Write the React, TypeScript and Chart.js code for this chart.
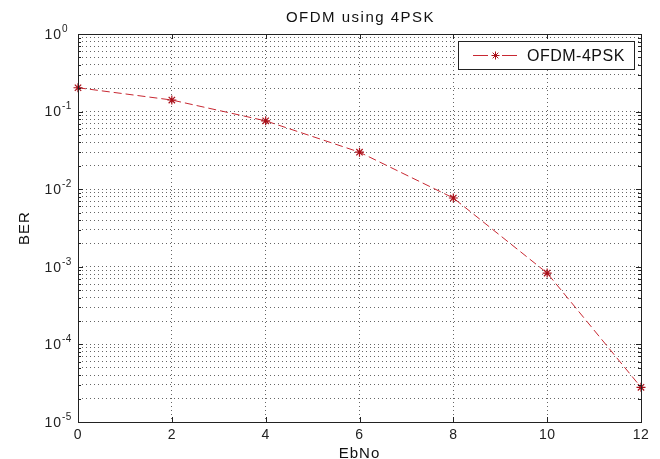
import React, { useEffect, useRef } from "react";
import { Chart, registerables } from "chart.js";

Chart.register(...registerables);

const ebno = [0, 2, 4, 6, 8, 10, 12];
const ber = [0.203, 0.141, 0.076, 0.03, 0.0077, 0.00083, 0.000028];
const xTicks = [0, 2, 4, 6, 8, 10, 12];
const yDecades = [-5, -4, -3, -2, -1, 0];
const yMantissas = [1, 2, 3, 4, 5, 6, 7, 8, 9];
const titleText = "OFDM using 4PSK";
const xLabel = "EbNo";
const yLabel = "BER";
const seriesName = "OFDM-4PSK";

const FONT = "'Liberation Sans', Arial, sans-serif";
const LINE_COLOR = "rgb(200,40,50)";
const MARK_COLOR = "rgb(170,15,25)";

function drawStar(ctx: CanvasRenderingContext2D, x: number, y: number, r: number) {
  ctx.beginPath();
  ctx.moveTo(x - r, y);
  ctx.lineTo(x + r, y);
  ctx.moveTo(x, y - r);
  ctx.lineTo(x, y + r);
  const d = r * 0.7071;
  ctx.moveTo(x - d, y - d);
  ctx.lineTo(x + d, y + d);
  ctx.moveTo(x - d, y + d);
  ctx.lineTo(x + d, y - d);
  ctx.stroke();
}

function setSpacing(ctx: any, px: number) {
  if ("letterSpacing" in ctx) ctx.letterSpacing = `${px}px`;
}

const matlabPlugin = {
  id: "matlabLook",
  beforeDraw(chart: any) {
    const { ctx, width, height } = chart;
    ctx.save();
    ctx.fillStyle = "#ffffff";
    ctx.fillRect(0, 0, width, height);
    ctx.restore();
  },
  afterDraw(chart: any) {
    const { ctx, chartArea } = chart;
    const { left, right, top, bottom } = chartArea;
    const xs = chart.scales.x;
    const ys = chart.scales.y;
    ctx.save();
    // frame
    ctx.strokeStyle = "#222";
    ctx.lineWidth = 1;
    ctx.setLineDash([]);
    ctx.strokeRect(Math.round(left) + 0.5, Math.round(top) + 0.5, Math.round(right - left), Math.round(bottom - top));
    // x ticks
    ctx.beginPath();
    xTicks.forEach((v) => {
      const px = Math.round(xs.getPixelForValue(v)) + 0.5;
      ctx.moveTo(px, bottom);
      ctx.lineTo(px, bottom - 5);
      ctx.moveTo(px, top);
      ctx.lineTo(px, top + 5);
    });
    // y ticks
    ys.ticks.forEach((t: any) => {
      const py = Math.round(ys.getPixelForValue(t.value)) + 0.5;
      const lg = Math.log10(t.value);
      const major = Math.abs(lg - Math.round(lg)) < 1e-9;
      const len = major ? 5 : 3;
      ctx.moveTo(left, py);
      ctx.lineTo(left + len, py);
      ctx.moveTo(right, py);
      ctx.lineTo(right - len, py);
    });
    ctx.stroke();

    // x tick labels
    ctx.fillStyle = "#222";
    ctx.font = `14px ${FONT}`;
    ctx.textAlign = "center";
    ctx.textBaseline = "middle";
    setSpacing(ctx, 0.5);
    xTicks.forEach((v) => {
      ctx.fillText(String(v), xs.getPixelForValue(v), bottom + 13);
    });
    // y tick labels 10^n
    yDecades.forEach((d) => {
      const py = ys.getPixelForValue(Math.pow(10, d));
      ctx.font = `14px ${FONT}`;
      setSpacing(ctx, 1);
      ctx.textAlign = "right";
      ctx.textBaseline = "middle";
      ctx.fillText("10", left - 16, py + 1);
      ctx.font = `10px ${FONT}`;
      setSpacing(ctx, 0.5);
      ctx.textAlign = "left";
      ctx.fillText(String(d), left - 16, py - 5);
    });
    // title
    ctx.font = `15px ${FONT}`;
    setSpacing(ctx, 1.5);
    ctx.textAlign = "center";
    ctx.textBaseline = "middle";
    ctx.fillStyle = "#111";
    ctx.fillText(titleText, (left + right) / 2 + 1, 18);
    // x label
    setSpacing(ctx, 1);
    ctx.font = `15px ${FONT}`;
    ctx.fillText(xLabel, (left + right) / 2, 454);
    // y label
    ctx.save();
    ctx.translate(25, 228);
    ctx.rotate(-Math.PI / 2);
    ctx.fillText(yLabel, 0, 0);
    ctx.restore();

    // legend
    const lx = 458, ly = 41, lw = 176, lh = 28;
    ctx.fillStyle = "#fff";
    ctx.fillRect(lx, ly, lw, lh);
    ctx.strokeStyle = "#222";
    ctx.lineWidth = 1;
    ctx.strokeRect(lx + 0.5, ly + 0.5, lw, lh);
    const cy = ly + lh / 2 + 0.5;
    ctx.strokeStyle = LINE_COLOR;
    ctx.setLineDash([15, 14]);
    ctx.beginPath();
    ctx.moveTo(473, cy);
    ctx.lineTo(517, cy);
    ctx.stroke();
    ctx.setLineDash([]);
    ctx.strokeStyle = MARK_COLOR;
    drawStar(ctx, 495.5, cy, 4);
    ctx.fillStyle = "#111";
    setSpacing(ctx, 0.5);
    ctx.font = `16px ${FONT}`;
    ctx.textAlign = "left";
    ctx.textBaseline = "middle";
    ctx.fillText(seriesName, 527, cy + 1);
    ctx.restore();
  },
};

export default function App() {
  const ref = useRef<HTMLCanvasElement | null>(null);
  useEffect(() => {
    if (!ref.current) return;
    const yTickValues: number[] = [];
    yDecades.forEach((d) => {
      if (d === 0) {
        yTickValues.push(1);
      } else {
        yMantissas.forEach((m) => yTickValues.push(m * Math.pow(10, d)));
      }
    });
    const chart = new Chart(ref.current, {
      type: "line",
      data: {
        datasets: [
          {
            label: seriesName,
            data: ebno.map((x, i) => ({ x, y: ber[i] })),
            borderColor: LINE_COLOR,
            borderWidth: 1,
            borderDash: [8, 4],
            pointStyle: "star",
            pointRadius: 4.5,
            pointBorderColor: MARK_COLOR,
            pointBackgroundColor: MARK_COLOR,
            pointBorderWidth: 1.2,
            fill: false,
            tension: 0,
            clip: false as any,
          },
        ],
      },
      options: {
        responsive: false,
        devicePixelRatio: 1,
        animation: false,
        layout: { padding: { left: 78, right: 19, top: 34, bottom: 37 } },
        plugins: { legend: { display: false }, title: { display: false }, tooltip: { enabled: false } },
        scales: {
          x: {
            type: "linear",
            min: 0,
            max: 12,
            afterBuildTicks: (s: any) => {
              s.ticks = xTicks.map((v) => ({ value: v }));
            },
            afterFit: (s: any) => {
              s.height = 0;
            },
            ticks: { display: false },
            grid: { color: "rgba(0,0,0,0.6)", lineWidth: 1, drawTicks: false },
            border: { display: false, dash: [1, 3] },
          },
          y: {
            type: "logarithmic",
            min: 1e-5,
            max: 1,
            afterBuildTicks: (s: any) => {
              s.ticks = yTickValues.map((v) => ({ value: v }));
            },
            afterFit: (s: any) => {
              s.width = 0;
            },
            ticks: { display: false },
            grid: { color: "rgba(0,0,0,0.6)", lineWidth: 1, drawTicks: false },
            border: { display: false, dash: [1, 3] },
          },
        },
      },
      plugins: [matlabPlugin],
    });
    return () => chart.destroy();
  }, []);
  return (
    <div style={{ position: "fixed", left: 0, top: 0, width: 660, height: 459, background: "#fff" }}>
      <canvas ref={ref} width={660} height={459} style={{ display: "block" }} />
    </div>
  );
}
